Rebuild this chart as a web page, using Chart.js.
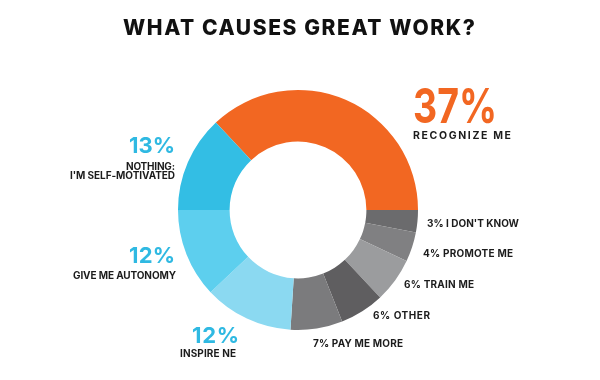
<!DOCTYPE html>
<html>
<head>
<meta charset="utf-8">
<script src="https://cdn.jsdelivr.net/npm/chart.js@4/dist/chart.umd.min.js"></script>
<style>
html,body{margin:0;padding:0;background:#fff;}
#wrap{width:600px;height:380px;position:relative;}
</style>
</head>
<body>
<div id="wrap"><canvas id="c" width="600" height="380"></canvas></div>
<script>
// ---- data ----
const categories = ["RECOGNIZE ME","I DON'T KNOW","PROMOTE ME","TRAIN ME","OTHER","PAY ME MORE","INSPIRE NE","GIVE ME AUTONOMY","NOTHING: I'M SELF-MOTIVATED"];
const values = [37,3,4,6,6,7,12,12,13];
const colors = ["#f26722","#6b6b6d","#808082","#9b9c9e","#5f5e60","#7b7b7d","#8bd9f1","#5dcfee","#33bee4"];
const title = "WHAT CAUSES GREAT WORK?";

// ---- label layout (offsets from doughnut center, in px) ----
const ORANGE="#f26722", BLUE="#2fb9e2", DARK="#1c1c1c";
const labelLayout = [
  {i:0, parts:[{t:values[0]+"%",dx:115,dy:-87,size:48,color:ORANGE,w:84,align:"left"},
               {t:categories[0],dx:115,dy:-74,size:10.5,color:DARK,w:98,align:"left",mid:true}]},
  {i:1, inline:true, dx:129, dy:14, w:92},
  {i:2, inline:true, dx:125, dy:44, w:90},
  {i:3, inline:true, dx:106, dy:75, w:70},
  {i:4, inline:true, dx:75, dy:106, w:57},
  {i:5, inline:true, dx:15, dy:134, w:90},
  {i:6, parts:[{t:values[6]+"%",dx:-106,dy:133,size:22,color:BLUE,w:47,align:"left"},
               {t:categories[6],dx:-118,dy:144,size:10,color:DARK,w:56,align:"left",mid:true}]},
  {i:7, parts:[{t:values[7]+"%",dx:-123,dy:53,size:22,color:BLUE,w:46,align:"right"},
               {t:categories[7],dx:-122,dy:66,size:10,color:DARK,w:103,align:"right",mid:true}]},
  {i:8, parts:[{t:values[8]+"%",dx:-123,dy:-57,size:22,color:BLUE,w:46,align:"right"},
               {t:"NOTHING:",dx:-123,dy:-43,size:10,color:DARK,w:49,align:"right",mid:true},
               {t:"I'M SELF-MOTIVATED",dx:-123,dy:-34,size:10,color:DARK,w:105,align:"right",mid:true}]}
];

const FONT = "Inter, 'DejaVu Sans', sans-serif";

function fitText(ctx, text, x, y, size, weight, color, targetW, align, mid){
  ctx.save();
  ctx.font = weight+" "+size+"px "+FONT;
  ctx.fillStyle = color;
  ctx.textBaseline = mid ? "middle" : "alphabetic";
  ctx.textAlign = "left";
  ctx.letterSpacing = "0px";
  const w0 = ctx.measureText(text).width;
  const n = Math.max(1, text.length-1);
  let ls = (targetW - w0)/n;
  let sx = x;
  if (align==="right") sx = x - targetW;
  else if (align==="center") sx = x - targetW/2;
  if (ls < -0.5) {
    const k = targetW / w0;
    ctx.translate(sx, y);
    ctx.scale(k, 1);
    ctx.fillText(text, 0, 0);
  } else {
    ctx.letterSpacing = ls+"px";
    ctx.fillText(text, sx, y);
  }
  ctx.restore();
}

const labelPlugin = {
  id:"labels",
  afterDraw(chart){
    const ctx = chart.ctx;
    const arc = chart.getDatasetMeta(0).data[0];
    const cx = arc.x, cy = arc.y;
    fitText(ctx, title, 299, 35, 21, "800", "#111", 352, "center", false);
    labelLayout.forEach(l=>{
      if (l.inline){
        const txt = values[l.i]+"% "+categories[l.i];
        fitText(ctx, txt, cx+l.dx, cy+l.dy, 10, "700", DARK, l.w, "left", true);
      } else {
        l.parts.forEach(p=>{
          fitText(ctx, p.t, cx+p.dx, cy+p.dy, p.size, "700", p.color, p.w, p.align, !!p.mid);
        });
      }
    });
  }
};

new Chart(document.getElementById("c"), {
  type:"doughnut",
  data:{labels:categories, datasets:[{data:values, backgroundColor:colors, borderWidth:0}]},
  options:{
    responsive:false, animation:false,
    rotation:-43.2, cutout:"57%",
    layout:{padding:{top:90,bottom:50,left:178,right:182}},
    plugins:{legend:{display:false}, tooltip:{enabled:false}, title:{display:false}}
  },
  plugins:[labelPlugin]
});
</script>
</body>
</html>
